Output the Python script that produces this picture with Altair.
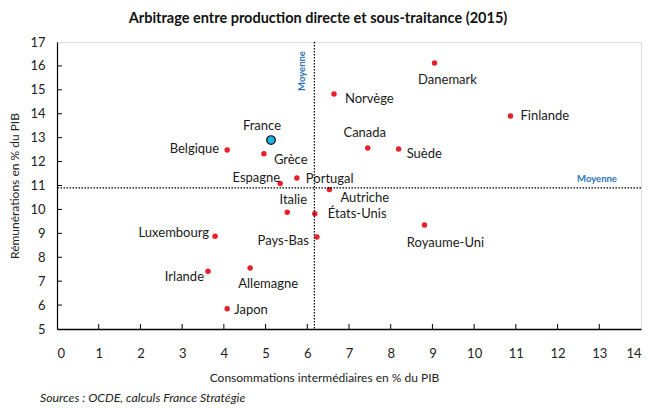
import altair as alt
import pandas as pd

pays = ["Danemark", "Finlande", "Norvège", "Canada", "Suède", "France", "Belgique",
        "Grèce", "Espagne", "Portugal", "Autriche", "Italie", "États-Unis", "Pays-Bas",
        "Luxembourg", "Irlande", "Allemagne", "Japon", "Royaume-Uni"]
conso = [9.05, 10.87, 6.64, 7.45, 8.19, 5.13, 4.08, 4.96, 5.35, 5.75, 6.53, 5.52,
         6.18, 6.23, 3.79, 3.62, 4.63, 4.08, 8.81]
remun = [16.12, 13.91, 14.83, 12.57, 12.53, 12.9, 12.48, 12.33, 11.08, 11.31, 10.83,
         9.88, 9.82, 8.85, 8.88, 7.41, 7.55, 5.85, 9.35]
moyenne_x = 6.17
moyenne_y = 10.9
x_ticks = list(range(0, 15))
y_ticks = list(range(5, 18))

# label placement styles (align, dx, dy)
label_style = {
    "Danemark": ("center", 13, 17), "Finlande": ("left", 10, 0),
    "Norvège": ("left", 11, 5), "Canada": ("center", -3, -15),
    "Suède": ("left", 8, 5), "France": ("center", -9, -14),
    "Belgique": ("right", -8, -1), "Grèce": ("left", 10, 6),
    "Espagne": ("right", 0, -6), "Portugal": ("left", 9, 1),
    "Autriche": ("left", 11, 8), "Italie": ("center", 6, -12),
    "États-Unis": ("left", 13, 0), "Pays-Bas": ("right", -8, 4),
    "Luxembourg": ("right", -6, -3), "Irlande": ("right", -4, 6),
    "Allemagne": ("center", 18, 16), "Japon": ("left", 7, 1),
    "Royaume-Uni": ("center", 21, 18),
}

FONT = "Lato"
W, H = 584, 287

df = pd.DataFrame({"pays": pays, "conso": conso, "remun": remun})

xs = alt.Scale(domain=[0, 14], nice=False, zero=False)
ys = alt.Scale(domain=[5, 17], nice=False, zero=False)

x_axis = alt.Axis(title="Consommations intermédiaires en % du PIB",
                  values=x_ticks, tickSize=0, labelPadding=18,
                  titlePadding=12, titleX=267, domainColor="#000",
                  domainWidth=1.5, labelOverlap=False,
                  labelFontSize=13, labelColor="#222", titleFontSize=12,
                  titleFontWeight="normal", titleColor="#222", grid=False,
                  labelFont=FONT, titleFont=FONT)
y_axis = alt.Axis(title="Rémunérations en % du PIB", values=y_ticks,
                  tickSize=0, labelPadding=12, titlePadding=8,
                  domainColor="#000", domainWidth=1.2, labelOverlap=False,
                  labelFontSize=13, labelColor="#222", titleFontSize=12,
                  titleFontWeight="normal", titleColor="#222", grid=False,
                  labelFont=FONT, titleFont=FONT)

base = alt.Chart(df)

points = base.transform_filter("datum.pays != 'France'").mark_circle(
    size=30, color="#E8202A", opacity=1
).encode(
    x=alt.X("conso:Q", scale=xs, axis=x_axis),
    y=alt.Y("remun:Q", scale=ys, axis=y_axis),
)

france = base.transform_filter("datum.pays == 'France'").mark_point(
    shape="circle", size=75, filled=True, fill="#1FB4E6", stroke="#111",
    strokeWidth=1.2, opacity=1
).encode(x=alt.X("conso:Q", scale=xs, axis=x_axis),
         y=alt.Y("remun:Q", scale=ys, axis=y_axis))

labels = []
for p in pays:
    al, dx, dy = label_style[p]
    labels.append(
        base.transform_filter(alt.datum.pays == p).mark_text(
            align=al, baseline="middle", dx=dx, dy=dy, fontSize=13,
            font=FONT, color="#1a1a1a"
        ).encode(x=alt.X("conso:Q", scale=xs, axis=x_axis),
                 y=alt.Y("remun:Q", scale=ys, axis=y_axis),
                 text="pays:N")
    )

mx = pd.DataFrame({"m": [moyenne_x], "t": ["Moyenne"]})
my = pd.DataFrame({"m": [moyenne_y], "t": ["Moyenne"]})

vline = alt.Chart(mx).mark_rule(color="#000", strokeDash=[1.5, 1.5], strokeWidth=1.2).encode(
    x=alt.X("m:Q", scale=xs, axis=x_axis))
hline = alt.Chart(my).mark_rule(color="#000", strokeDash=[1.5, 1.5], strokeWidth=1.2).encode(
    y=alt.Y("m:Q", scale=ys, axis=y_axis))

vlabel = alt.Chart(mx).mark_text(
    angle=270, align="center", baseline="middle", dy=-12, fontSize=9.5,
    fontWeight="bold", color="#2E75B6", font=FONT
).encode(x=alt.X("m:Q", scale=xs, axis=x_axis), y=alt.value(29), text="t:N")

hlabel = alt.Chart(my).mark_text(
    align="center", baseline="middle", dy=-9, fontSize=9.5, fontWeight="bold",
    color="#2E75B6", font=FONT
).encode(x=alt.value(540), y=alt.Y("m:Q", scale=ys, axis=y_axis), text="t:N")

xt = pd.DataFrame({"v": x_ticks[1:-1]})
yt = pd.DataFrame({"v": y_ticks[1:-1]})
xtick = alt.Chart(xt).mark_rule(color="#000", strokeWidth=1).encode(
    x=alt.X("v:Q", scale=xs, axis=x_axis), y=alt.value(H), y2=alt.value(H - 5))
ytick = alt.Chart(yt).mark_rule(color="#000", strokeWidth=1).encode(
    y=alt.Y("v:Q", scale=ys, axis=y_axis), x=alt.value(0), x2=alt.value(5))

source = alt.Chart(pd.DataFrame({"t": ["Sources : OCDE, calculs France Stratégie"]})).mark_text(
    align="left", baseline="middle", fontSize=12.3, fontStyle="italic", font=FONT,
    color="#222"
).encode(x=alt.value(-17), y=alt.value(356), text="t:N")

chart = alt.layer(
    points, hline, vline, xtick, ytick, france, *labels, vlabel, hlabel, source
).properties(
    width=W, height=H,
    title=alt.TitleParams(
        "Arbitrage entre production directe et sous-traitance (2015)",
        fontSize=14.5, fontWeight="bold", font=FONT, color="#111",
        anchor="middle", dx=-31, offset=10
    ),
    autosize=alt.AutoSizeParams(type="none"),
    padding={"left": 49, "top": 34, "right": 4, "bottom": 77},
).configure_view(stroke="#888", strokeWidth=1.2).configure_axis(
    labelOverlap=False
).configure(background="white")

chart.save("out.html", embed_options={"renderer": "svg", "actions": False})
